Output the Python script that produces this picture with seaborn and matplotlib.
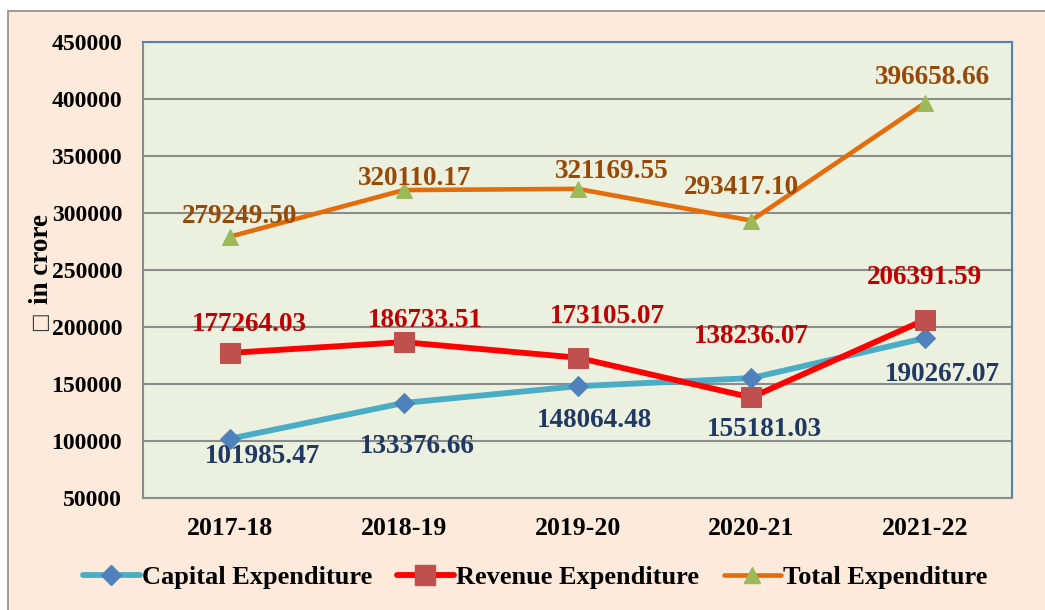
import matplotlib
matplotlib.use("Agg")
import matplotlib.pyplot as plt
from matplotlib.patches import Rectangle
from matplotlib.lines import Line2D
import numpy as np
import pandas as pd
import seaborn as sns

years = ["2017-18", "2018-19", "2019-20", "2020-21", "2021-22"]
capital = [101985.47, 133376.66, 148064.48, 155181.03, 190267.07]
revenue = [177264.03, 186733.51, 173105.07, 138236.07, 206391.59]
total = [279249.50, 320110.17, 321169.55, 293417.10, 396658.66]

# label offsets in pixels (dx, dy), set by hand like the excel chart
off_cap = [(33, -18), (14, -44), (17, -34), (13, -51), (17, -36)]
off_rev = [(19, 28), (22, 22), (30, 41), (0, 61), (-1, 42)]
off_tot = [(10, 20), (11, 12), (34, 17), (-10, 33), (7, 25)]

sns.set_style("white")
plt.rcParams['font.family'] = ['Liberation Serif', 'DejaVu Sans']
plt.rcParams['font.weight'] = 'bold'
plt.rcParams['text.color'] = 'black'
plt.rcParams['xtick.color'] = 'black'
plt.rcParams['ytick.color'] = 'black'

W, H = 1045, 610
fig = plt.figure(figsize=(W / 100, H / 100), dpi=100, facecolor="white")

# outer chart area
fig.patches.append(Rectangle((8 / W, -0.05), 1.1, (H - 11) / H + 0.05,
                             transform=fig.transFigure, facecolor="#FDEADA",
                             edgecolor="#8C8C8C", lw=1.2, zorder=-10))

ax = fig.add_axes([143 / W, (H - 498) / H, (1012 - 143) / W, (498 - 42) / H])
ax.set_zorder(1)
ax.set_facecolor("#EBF1DE")

df = pd.DataFrame({"year": years, "Capital Expenditure": capital,
                   "Revenue Expenditure": revenue, "Total Expenditure": total})

series = [
    ("Capital Expenditure", "#4BACC6", "D", 10, "#4F81BD", 4.2, "#1F3864", off_cap),
    ("Revenue Expenditure", "#FF0000", "s", 14, "#C0504D", 4.2, "#C00000", off_rev),
    ("Total Expenditure", "#E46C0A", "^", 11, "#9BBB59", 3.3, "#984807", off_tot),
]

handles = []
for name, lc, mk, ms, mc, lw, tc, offs in series:
    sns.lineplot(data=df, x="year", y=name, ax=ax, color=lc, lw=lw, marker=mk,
                 markersize=ms, markerfacecolor=mc, markeredgecolor=mc, zorder=3)
    for i, v in enumerate(df[name]):
        ax.annotate(f"{v:.2f}", (i, v), xytext=offs[i], textcoords="offset pixels",
                    ha="center", va="center", fontsize=19.5, fontweight="bold",
                    color=tc, zorder=4)
    handles.append(Line2D([], [], color=lc, lw=lw, marker=mk, markersize=ms,
                          markerfacecolor=mc, markeredgecolor=mc, label=name))

ax.set_xlim(-0.5, 4.5)
ax.set_ylim(50000, 450000)
ax.set_yticks(np.arange(50000, 450001, 50000))
ax.set_yticklabels([str(t) for t in range(50000, 450001, 50000)])
ax.set_xlabel("")
ax.set_ylabel("")
ax.set_xticks(range(5))
ax.set_xticklabels(years)
ax.set_xticks(np.arange(-0.5, 5, 1), minor=True)
ax.tick_params(axis="x", which="major", length=0, pad=14, labelsize=18.5)
ax.tick_params(axis="x", which="minor", length=7, width=1.4, color="#8C8C8C", direction="out")
ax.tick_params(axis="y", length=5, width=1.4, color="#8C8C8C", pad=10, labelsize=17)
for lab in ax.get_xticklabels() + ax.get_yticklabels():
    lab.set_fontweight("bold")

ax.grid(axis="y", color="#8C8C8C", lw=1.5)
ax.set_axisbelow(True)
for s in ["left", "bottom"]:
    ax.spines[s].set_color("#8C8C8C")
    ax.spines[s].set_linewidth(1.5)
for s in ["top", "right"]:
    ax.spines[s].set_color("#4F81BD")
    ax.spines[s].set_linewidth(1.5)
    ax.spines[s].set_visible(True)

# y label: the rupee sign shows as an empty box in the source
fig.text(41 / W, (H - 259) / H, "in crore", rotation=90, ha="center", va="center",
         fontsize=19.5, fontweight="bold")
fig.text(39 / W, (H - 321) / H, "\u25a1", rotation=90, ha="center", va="center",
         fontsize=15, fontweight="normal", color="#404040", family="DejaVu Sans")

if ax.get_legend():
    ax.get_legend().remove()
fig.legend(handles=handles, loc="center", bbox_to_anchor=(535 / W, (H - 577) / H),
           ncol=3, frameon=False, prop={"size": 19, "weight": "bold"},
           handlelength=2.15, handletextpad=0.08, columnspacing=0.95)

fig.savefig("out.png", dpi=100, facecolor="white")
